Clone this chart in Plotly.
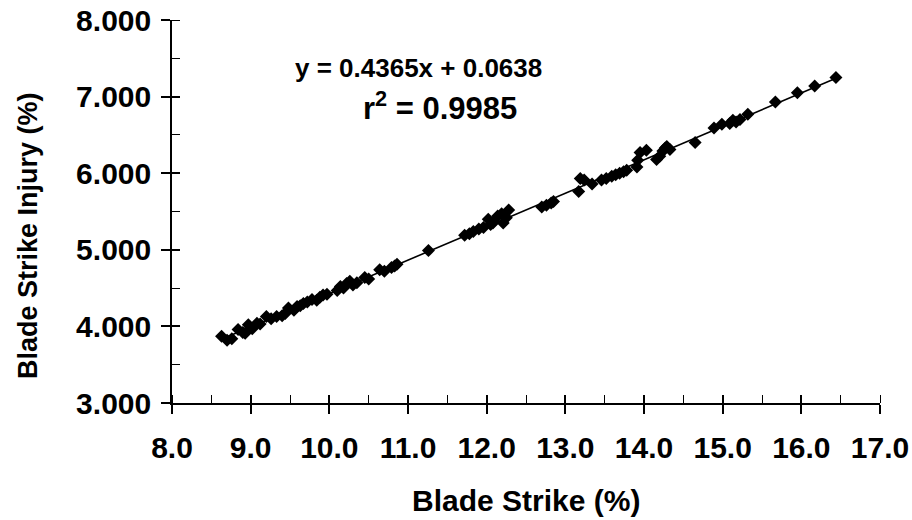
import plotly.graph_objects as go

blade_strike = [8.63, 8.70, 8.76, 8.84, 8.90, 8.93, 8.97, 9.02, 9.08, 9.12, 9.20, 9.26,
                9.33, 9.40, 9.44, 9.48, 9.55, 9.59, 9.63, 9.67, 9.72, 9.78, 9.84, 9.88,
                9.92, 9.97, 10.10, 10.14, 10.18, 10.22, 10.26, 10.30, 10.35, 10.45, 10.50,
                10.64, 10.70, 10.79, 10.83, 10.86, 11.26, 11.72, 11.78, 11.83, 11.90,
                11.96, 12.02, 12.05, 12.08, 12.14, 12.19, 12.21, 12.25, 12.28, 12.70,
                12.76, 12.82, 12.85, 13.17, 13.19, 13.24, 13.34, 13.46, 13.52, 13.59,
                13.64, 13.69, 13.74, 13.78, 13.91, 13.92, 13.95, 14.03, 14.16, 14.20,
                14.24, 14.27, 14.29, 14.33, 14.65, 14.89, 14.99, 15.09, 15.13, 15.17,
                15.22, 15.32, 15.67, 15.95, 16.17, 16.44]
blade_injury = [3.87, 3.82, 3.84, 3.96, 3.92, 3.91, 4.02, 3.97, 4.04, 4.03, 4.13, 4.10,
                4.13, 4.14, 4.17, 4.24, 4.21, 4.26, 4.27, 4.30, 4.32, 4.35, 4.34, 4.38,
                4.41, 4.42, 4.47, 4.52, 4.50, 4.56, 4.59, 4.54, 4.57, 4.64, 4.62,
                4.74, 4.72, 4.77, 4.79, 4.81, 4.99, 5.19, 5.21, 5.24, 5.27,
                5.29, 5.40, 5.33, 5.35, 5.44, 5.47, 5.35, 5.42, 5.52, 5.56,
                5.58, 5.61, 5.63, 5.76, 5.93, 5.91, 5.86, 5.91, 5.93, 5.96,
                5.98, 6.00, 6.02, 6.04, 6.08, 6.17, 6.27, 6.30, 6.18, 6.22,
                6.29, 6.33, 6.35, 6.31, 6.40, 6.59, 6.64, 6.65, 6.69, 6.67,
                6.70, 6.77, 6.93, 7.05, 7.14, 7.25]

slope = 0.4365
intercept = 0.0638
r_squared = 0.9985

x_ticks = [8, 9, 10, 11, 12, 13, 14, 15, 16, 17]
y_ticks = [3, 4, 5, 6, 7, 8]
x_title = "Blade Strike (%)"
y_title = "Blade Strike Injury (%)"

fit_x = [min(blade_strike), max(blade_strike)]
fit_y = [slope * v + intercept for v in fit_x]

font = dict(family="Liberation Sans, Arial, sans-serif", color="black", weight="bold")

# plot area in page pixels (body margin removed by post_script below)
L, R, T, B = 172, 880, 20, 403
W, H = 912, 520
pw, ph = R - L, B - T

def px(xp):
    return (xp - L) / pw

def py(yp):
    return (B - yp) / ph

fig = go.Figure()
fig.add_trace(go.Scatter(x=fit_x, y=fit_y, mode="lines",
                         line=dict(color="black", width=1.6), showlegend=False,
                         hoverinfo="skip"))
fig.add_trace(go.Scatter(x=blade_strike, y=blade_injury, mode="markers",
                         marker=dict(symbol="diamond", color="black", size=10,
                                     line=dict(width=0)),
                         showlegend=False))
# invisible trace to carry the overlay axes (crossing major ticks)
fig.add_trace(go.Scatter(x=[8], y=[3], xaxis="x2", yaxis="y2", mode="markers",
                         marker=dict(opacity=0), showlegend=False, hoverinfo="skip"))

common = dict(showgrid=False, zeroline=False, automargin=False)

fig.update_layout(
    width=W, height=H,
    margin=dict(l=L, r=W - R, t=T, b=H - B),
    paper_bgcolor="white", plot_bgcolor="white",
    font=dict(size=26, **font),
    xaxis=dict(range=[8, 17], tickvals=x_ticks, tickformat=".1f", **common,
               showline=True, linecolor="black", linewidth=1.6,
               ticks="outside", ticklen=9, tickwidth=1.5, tickcolor="black",
               ticklabelstandoff=8, ticklabeloverflow="allow",
               minor=dict(dtick=0.5, tick0=8, ticks="inside", ticklen=8, tickwidth=1.2,
                          tickcolor="black", showgrid=False),
               tickfont=dict(size=30, **font)),
    yaxis=dict(range=[3, 8], tickvals=y_ticks, tickformat=".3f", **common,
               showline=True, linecolor="black", linewidth=1.6,
               ticks="outside", ticklen=9, tickwidth=1.5, tickcolor="black",
               ticklabelstandoff=4, ticklabeloverflow="allow",
               minor=dict(dtick=0.5, tick0=3, ticks="inside", ticklen=8, tickwidth=1.2,
                          tickcolor="black", showgrid=False),
               tickfont=dict(size=30, **font)),
    xaxis2=dict(range=[8, 17], tickvals=x_ticks, overlaying="x", anchor="y2", side="bottom",
                showticklabels=False, showline=False, ticks="inside", ticklen=8,
                tickwidth=1.5, tickcolor="black", **common),
    yaxis2=dict(range=[3, 8], tickvals=y_ticks, overlaying="y", anchor="x2", side="left",
                showticklabels=False, showline=False, ticks="inside", ticklen=8,
                tickwidth=1.5, tickcolor="black", **common),
    annotations=[
        dict(xref="paper", yref="paper", x=px(418), y=py(68),
             text=f"y = {slope}x + {intercept}", showarrow=False,
             font=dict(size=26, **font), xanchor="center", yanchor="middle"),
        dict(xref="paper", yref="paper", x=px(440), y=py(106),
             text=f"r<sup>2</sup> = {r_squared}", showarrow=False,
             font=dict(size=31, **font), xanchor="center", yanchor="middle"),
        dict(xref="paper", yref="paper", x=px(526), y=py(500),
             text=x_title, showarrow=False,
             font=dict(size=30, **font), xanchor="center", yanchor="middle"),
        dict(xref="paper", yref="paper", x=px(28), y=py(236),
             text=y_title, showarrow=False, textangle=-90,
             font=dict(size=27, **font), xanchor="center", yanchor="middle"),
    ],
)

fig.write_html("out.html",
               config={"displayModeBar": False},
               post_script="document.body.style.margin='0';"
                           "document.body.style.overflow='hidden';")
